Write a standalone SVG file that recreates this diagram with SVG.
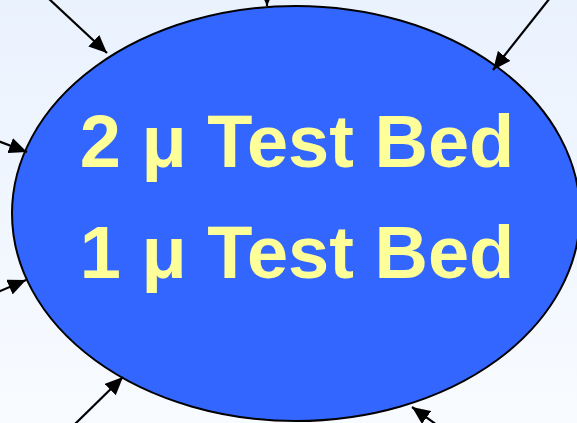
<svg xmlns="http://www.w3.org/2000/svg" width="577" height="423" viewBox="0 0 577 423">
  <defs>
    <linearGradient id="bg" x1="0" y1="0" x2="0" y2="1">
      <stop offset="0" stop-color="#eaf2fe"/>
      <stop offset="1" stop-color="#f8fbff"/>
    </linearGradient>
    <marker id="arrow" markerUnits="userSpaceOnUse" markerWidth="19" markerHeight="16" refX="18" refY="8" orient="auto">
      <path d="M0,0 L18,8 L0,16 Z" fill="#000"/>
    </marker>
    <style>
      .conn { stroke: #000; stroke-width: 2.2; fill: none; marker-end: url(#arrow); }
      .bed { fill: #3366ff; stroke: #000; stroke-width: 2; }
      .label { font-family: "Liberation Sans", Arial, sans-serif; font-weight: bold; font-size: 74px; fill: #ffff99; text-anchor: middle; }
    </style>
  </defs>

  <rect width="577" height="423" fill="url(#bg)"/>

  <g id="test-bed">
    <ellipse class="bed" cx="296" cy="213.5" rx="284" ry="207.5"/>
    <text class="label" x="297" y="167">2 μ Test Bed</text>
    <text class="label" x="297" y="278">1 μ Test Bed</text>
  </g>

  <g id="connectors">
    <line class="conn" x1="48" y1="-2" x2="107" y2="53"/>
    <line class="conn" x1="267" y1="-30" x2="267" y2="6"/>
    <line class="conn" x1="550" y1="-2" x2="493" y2="70"/>
    <line class="conn" x1="-2" y1="141" x2="27" y2="152"/>
    <line class="conn" x1="-2" y1="292" x2="26" y2="280"/>
    <line class="conn" x1="74" y1="425" x2="123" y2="377"/>
    <line class="conn" x1="437" y1="425" x2="412" y2="407"/>
  </g>
</svg>
